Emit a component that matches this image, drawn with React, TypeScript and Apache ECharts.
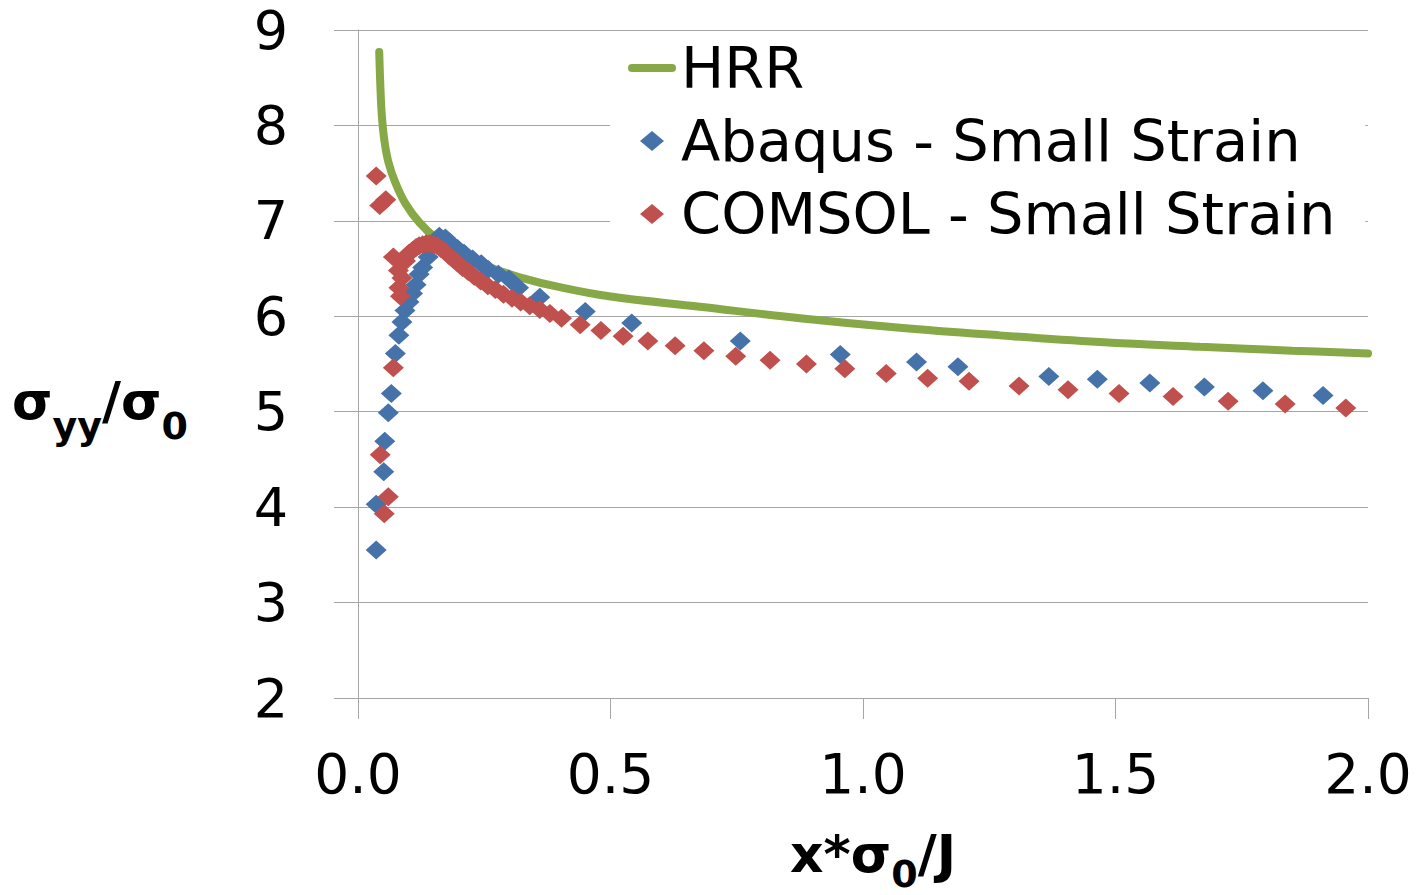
import React, { useEffect, useRef } from "react";
import * as echarts from "echarts";

const xTickLabels = ["0.0", "0.5", "1.0", "1.5", "2.0"];
const yTickValues = [2, 3, 4, 5, 6, 7, 8, 9];

const hrr: [number, number][] = [
  [0.042, 8.77], [0.044, 8.45], [0.047, 8.12], [0.052, 7.85], [0.060, 7.62],
  [0.074, 7.40], [0.094, 7.18], [0.122, 6.98], [0.156, 6.81], [0.19, 6.69],
  [0.258, 6.52], [0.326, 6.40], [0.395, 6.31], [0.497, 6.21], [0.677, 6.10],
  [0.875, 5.98], [1.073, 5.88], [1.271, 5.80], [1.469, 5.73], [1.667, 5.68],
  [1.85, 5.64], [2.0, 5.61],
];

const abaqus: [number, number][] = [
  [0.036, 3.55], [0.036, 4.03], [0.051, 4.37], [0.053, 4.69], [0.060, 4.99],
  [0.066, 5.19], [0.074, 5.61], [0.081, 5.80], [0.087, 5.94], [0.093, 6.06],
  [0.101, 6.15], [0.108, 6.24], [0.115, 6.33], [0.121, 6.44], [0.128, 6.51],
  [0.139, 6.62], [0.149, 6.77], [0.161, 6.84], [0.173, 6.82], [0.183, 6.77],
  [0.197, 6.71], [0.210, 6.66], [0.227, 6.60], [0.244, 6.55], [0.258, 6.49],
  [0.278, 6.44], [0.299, 6.39], [0.318, 6.30], [0.36, 6.20], [0.45, 6.05],
  [0.542, 5.93], [0.757, 5.74], [0.955, 5.60], [1.106, 5.52], [1.188, 5.47],
  [1.368, 5.37], [1.464, 5.34], [1.568, 5.30], [1.676, 5.26], [1.792, 5.22],
  [1.911, 5.17],
];

const comsol: [number, number][] = [
  [0.036, 7.47], [0.043, 7.16], [0.055, 7.22], [0.044, 4.55], [0.060, 4.11],
  [0.052, 3.93], [0.070, 5.46], [0.070, 6.62], [0.080, 6.48], [0.081, 6.30],
  [0.084, 6.21], [0.087, 6.40], [0.094, 6.58], [0.101, 6.66], [0.108, 6.69],
  [0.115, 6.72], [0.121, 6.74], [0.128, 6.75], [0.135, 6.76], [0.142, 6.76],
  [0.150, 6.75], [0.157, 6.74], [0.164, 6.71], [0.172, 6.68], [0.180, 6.64],
  [0.188, 6.60], [0.197, 6.56], [0.207, 6.51], [0.218, 6.47], [0.230, 6.42],
  [0.243, 6.37], [0.257, 6.32], [0.272, 6.28], [0.288, 6.23], [0.305, 6.19],
  [0.322, 6.15], [0.340, 6.11], [0.360, 6.07], [0.380, 6.03], [0.403, 5.98],
  [0.44, 5.91], [0.481, 5.85], [0.525, 5.79], [0.574, 5.74], [0.628, 5.69],
  [0.685, 5.64], [0.748, 5.58], [0.816, 5.54], [0.888, 5.50], [0.964, 5.45],
  [1.046, 5.40], [1.128, 5.35], [1.21, 5.32], [1.309, 5.27], [1.406, 5.23],
  [1.507, 5.19], [1.614, 5.16], [1.723, 5.11], [1.836, 5.08], [1.956, 5.04],
];

const seriesNames = ["HRR", "Abaqus - Small Strain", "COMSOL - Small Strain"];
const colors = ["#86A846", "#4672AA", "#C0504D"];

const FONT = "DejaVu Sans";
const GRID = "#A6A6A6";

const LINE_ICON = "path://M4.5,0 L49.5,0 A4.5,4.5 0 0 1 49.5,9 L4.5,9 A4.5,4.5 0 0 1 4.5,0 Z";
const DIAMOND_ICON = "path://M12,0 L24,10 L12,20 L0,10 Z";

const makeRich = (subPad: number) => ({
  a: { fontSize: 52, fontWeight: "bold", fontFamily: FONT, fill: "#000", lineHeight: 60, verticalAlign: "top" },
  s: { fontSize: 38, fontWeight: "bold", fontFamily: FONT, fill: "#000", lineHeight: 38, padding: [subPad, 0, 0, 0], verticalAlign: "top" },
});

export default function App() {
  const ref = useRef<HTMLDivElement>(null);
  useEffect(() => {
    const chart = echarts.init(ref.current!, null, { renderer: "svg" });
    chart.setOption({
      animation: false,
      backgroundColor: "#fff",
      grid: { left: 358, top: 30, right: 54, bottom: 197 },
      xAxis: {
        type: "value",
        min: 0,
        max: 2,
        interval: 0.5,
        axisLine: { show: true, onZero: false, lineStyle: { color: GRID, width: 1 } },
        axisTick: { show: true, length: 21, lineStyle: { color: GRID } },
        splitLine: { show: false },
        axisLabel: {
          formatter: (v: number) => xTickLabels[Math.round(v / 0.5)] ?? v.toFixed(1),
          fontSize: 55,
          fontFamily: FONT,
          color: "#000",
          margin: 48,
        },
      },
      yAxis: {
        type: "value",
        min: yTickValues[0],
        max: yTickValues[yTickValues.length - 1],
        interval: 1,
        axisLine: { show: true, lineStyle: { color: GRID, width: 1 } },
        axisTick: { show: true, length: 24, lineStyle: { color: GRID } },
        splitLine: { show: true, lineStyle: { color: GRID, width: 1 } },
        axisLabel: { fontSize: 54, fontFamily: FONT, color: "#000", margin: 70 },
      },
      legend: {
        orient: "vertical",
        left: 610,
        top: 34,
        padding: [4, 30, 6, 18],
        itemWidth: 48,
        itemHeight: 20,
        itemGap: 13,
        symbolKeepAspect: true,
        backgroundColor: "#fff",
        textStyle: { fontSize: 57.5, fontFamily: FONT, color: "#000", lineHeight: 60 },
        data: [
          { name: seriesNames[0], icon: LINE_ICON, itemStyle: { color: colors[0] } },
          { name: seriesNames[1], icon: DIAMOND_ICON },
          { name: seriesNames[2], icon: DIAMOND_ICON },
        ],
      },
      graphic: [
        {
          type: "text",
          left: 12,
          top: 375,
          style: { text: "{a|σ}{s|yy}{a|/σ}{s|0}", rich: makeRich(32) },
        },
        {
          type: "text",
          left: 790,
          top: 828,
          style: { text: "{a|x*σ}{s|0}{a|/J}", rich: makeRich(27) },
        },
      ],
      series: [
        {
          name: seriesNames[0],
          type: "line",
          data: hrr,
          smooth: 0.4,
          symbol: "none",
          showSymbol: false,
          lineStyle: { color: colors[0], width: 8, cap: "round" },
          itemStyle: { color: colors[0] },
          z: 2,
        },
        {
          name: seriesNames[1],
          type: "scatter",
          data: abaqus,
          symbol: "diamond",
          symbolSize: [21, 19],
          itemStyle: { color: colors[1], opacity: 1 },
          z: 3,
        },
        {
          name: seriesNames[2],
          type: "scatter",
          data: comsol,
          symbol: "diamond",
          symbolSize: [21, 19],
          itemStyle: { color: colors[2], opacity: 1 },
          z: 4,
        },
      ],
    });
    return () => chart.dispose();
  }, []);
  return (
    <div
      ref={ref}
      style={{ position: "absolute", left: 0, top: 0, width: 1422, height: 895 }}
    />
  );
}
